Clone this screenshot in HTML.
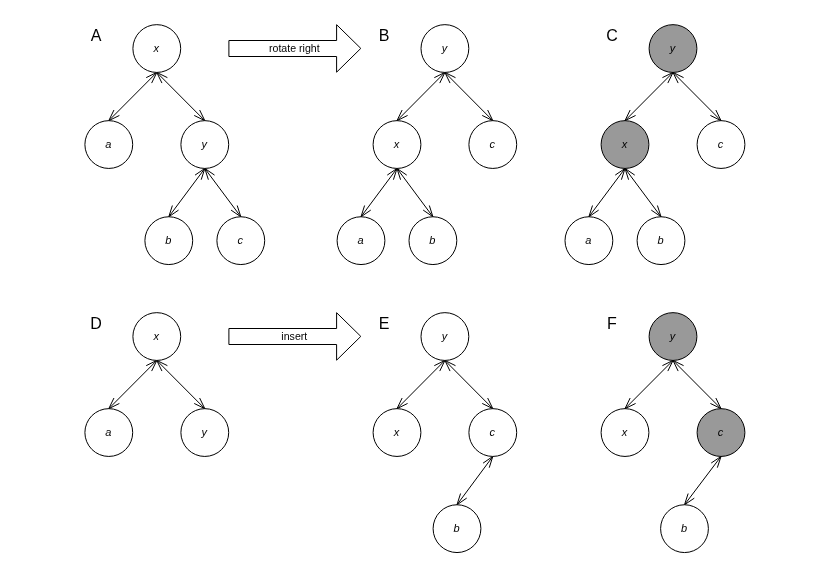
<!DOCTYPE html>
<html><head><meta charset="utf-8"><style>
html,body{margin:0;padding:0;background:#fff;width:813px;height:576px;overflow:hidden}
svg{display:block;will-change:transform}
text{font-family:"Liberation Sans",sans-serif}
</style></head><body>
<svg width="813" height="576" viewBox="0 0 813 576">
<rect width="813" height="576" fill="#fff"/>
<g fill="none" stroke="#000" stroke-width="1">
<path d="M156.80 72.45L108.80 120.65M146.21 77.64L156.80 72.45L151.65 83.07M119.39 115.46L108.80 120.65L113.95 110.03M156.80 72.45L204.80 120.65M161.95 83.07L156.80 72.45L167.39 77.64M199.65 110.03L204.80 120.65L194.21 115.46M204.80 168.45L168.80 216.75M195.05 175.10L204.80 168.45L201.21 179.69M178.55 210.10L168.80 216.75L172.39 205.51M204.80 168.45L240.80 216.75M208.39 179.69L204.80 168.45L214.55 175.10M237.21 205.51L240.80 216.75L231.05 210.10M444.90 72.45L397.00 120.65M434.31 77.66L444.90 72.45L439.76 83.07M407.59 115.44L397.00 120.65L402.14 110.03M444.90 72.45L492.80 120.65M450.04 83.07L444.90 72.45L455.49 77.66M487.66 110.03L492.80 120.65L482.21 115.44M397.00 168.45L361.00 216.75M387.25 175.10L397.00 168.45L393.41 179.69M370.75 210.10L361.00 216.75L364.59 205.51M397.00 168.45L432.90 216.75M400.57 179.70L397.00 168.45L406.74 175.11M429.33 205.50L432.90 216.75L423.16 210.09M673.00 72.45L625.00 120.65M662.41 77.64L673.00 72.45L667.85 83.07M635.59 115.46L625.00 120.65L630.15 110.03M673.00 72.45L721.00 120.65M678.15 83.07L673.00 72.45L683.59 77.64M715.85 110.03L721.00 120.65L710.41 115.46M625.00 168.45L588.90 216.75M615.24 175.09L625.00 168.45L621.40 179.69M598.66 210.11L588.90 216.75L592.50 205.51M625.00 168.45L661.00 216.75M628.59 179.69L625.00 168.45L634.75 175.10M657.41 205.51L661.00 216.75L651.25 210.10M156.80 360.45L108.80 408.65M146.21 365.64L156.80 360.45L151.65 371.07M119.39 403.46L108.80 408.65L113.95 398.03M156.80 360.45L204.80 408.65M161.95 371.07L156.80 360.45L167.39 365.64M199.65 398.03L204.80 408.65L194.21 403.46M444.90 360.45L397.00 408.65M434.31 365.66L444.90 360.45L439.76 371.07M407.59 403.44L397.00 408.65L402.14 398.03M444.90 360.45L492.80 408.65M450.04 371.07L444.90 360.45L455.49 365.66M487.66 398.03L492.80 408.65L482.21 403.44M492.80 456.45L457.00 504.75M483.07 463.13L492.80 456.45L489.24 467.70M466.73 498.07L457.00 504.75L460.56 493.50M673.00 360.45L625.00 408.65M662.41 365.64L673.00 360.45L667.85 371.07M635.59 403.46L625.00 408.65L630.15 398.03M673.00 360.45L721.00 408.65M678.15 371.07L673.00 360.45L683.59 365.64M715.85 398.03L721.00 408.65L710.41 403.46M721.00 456.45L684.50 504.75M711.21 463.04L721.00 456.45L717.34 467.67M694.29 498.16L684.50 504.75L688.16 493.53"/>
</g>
<g stroke="#000" stroke-width="1">
<circle cx="156.79999999999998" cy="48.55" r="23.9" fill="#fff"/><circle cx="108.8" cy="144.55" r="23.9" fill="#fff"/><circle cx="204.79999999999998" cy="144.55" r="23.9" fill="#fff"/><circle cx="168.79999999999998" cy="240.65" r="23.9" fill="#fff"/><circle cx="240.79999999999998" cy="240.65" r="23.9" fill="#fff"/><circle cx="444.9" cy="48.55" r="23.9" fill="#fff"/><circle cx="397.0" cy="144.55" r="23.9" fill="#fff"/><circle cx="492.8" cy="144.55" r="23.9" fill="#fff"/><circle cx="361.0" cy="240.65" r="23.9" fill="#fff"/><circle cx="432.9" cy="240.65" r="23.9" fill="#fff"/><circle cx="673.0" cy="48.55" r="23.9" fill="#999999"/><circle cx="625.0" cy="144.55" r="23.9" fill="#999999"/><circle cx="721.0" cy="144.55" r="23.9" fill="#fff"/><circle cx="588.9000000000001" cy="240.65" r="23.9" fill="#fff"/><circle cx="661.0" cy="240.65" r="23.9" fill="#fff"/><circle cx="156.79999999999998" cy="336.54999999999995" r="23.9" fill="#fff"/><circle cx="108.8" cy="432.54999999999995" r="23.9" fill="#fff"/><circle cx="204.79999999999998" cy="432.54999999999995" r="23.9" fill="#fff"/><circle cx="444.9" cy="336.54999999999995" r="23.9" fill="#fff"/><circle cx="397.0" cy="432.54999999999995" r="23.9" fill="#fff"/><circle cx="492.8" cy="432.54999999999995" r="23.9" fill="#fff"/><circle cx="457.0" cy="528.65" r="23.9" fill="#fff"/><circle cx="673.0" cy="336.54999999999995" r="23.9" fill="#999999"/><circle cx="625.0" cy="432.54999999999995" r="23.9" fill="#fff"/><circle cx="721.0" cy="432.54999999999995" r="23.9" fill="#999999"/><circle cx="684.5" cy="528.65" r="23.9" fill="#fff"/>
</g>
<g font-size="11" font-style="italic" text-anchor="middle" fill="#000">
<text x="156.30" y="52">x</text><text x="108.30" y="148">a</text><text x="204.30" y="148">y</text><text x="168.30" y="244">b</text><text x="240.30" y="244">c</text><text x="444.40" y="52">y</text><text x="396.50" y="148">x</text><text x="492.30" y="148">c</text><text x="360.50" y="244">a</text><text x="432.40" y="244">b</text><text x="672.50" y="52">y</text><text x="624.50" y="148">x</text><text x="720.50" y="148">c</text><text x="588.40" y="244">a</text><text x="660.50" y="244">b</text><text x="156.30" y="340">x</text><text x="108.30" y="436">a</text><text x="204.30" y="436">y</text><text x="444.40" y="340">y</text><text x="396.50" y="436">x</text><text x="492.30" y="436">c</text><text x="456.50" y="532">b</text><text x="672.50" y="340">y</text><text x="624.50" y="436">x</text><text x="720.50" y="436">c</text><text x="684.00" y="532">b</text>
</g>
<g font-size="16" text-anchor="middle" fill="#000">
<text x="96" y="40.7">A</text><text x="384" y="40.7">B</text><text x="612" y="40.7">C</text><text x="96" y="328.7">D</text><text x="384" y="328.7">E</text><text x="612" y="328.7">F</text>
</g>
<path d="M228.9 40.5L336.6 40.5L336.6 24.7L360.8 48.4L336.6 72.2L336.6 56.5L228.9 56.5Z" fill="#fff" stroke="#000" stroke-width="1"/><text x="294.3" y="51.5" font-size="10.6" text-anchor="middle">rotate right</text>
<path d="M228.9 328.5L336.6 328.5L336.6 312.7L360.8 336.4L336.6 360.2L336.6 344.5L228.9 344.5Z" fill="#fff" stroke="#000" stroke-width="1"/><text x="294.3" y="339.5" font-size="10.6" text-anchor="middle">insert</text>
</svg>
</body></html>
